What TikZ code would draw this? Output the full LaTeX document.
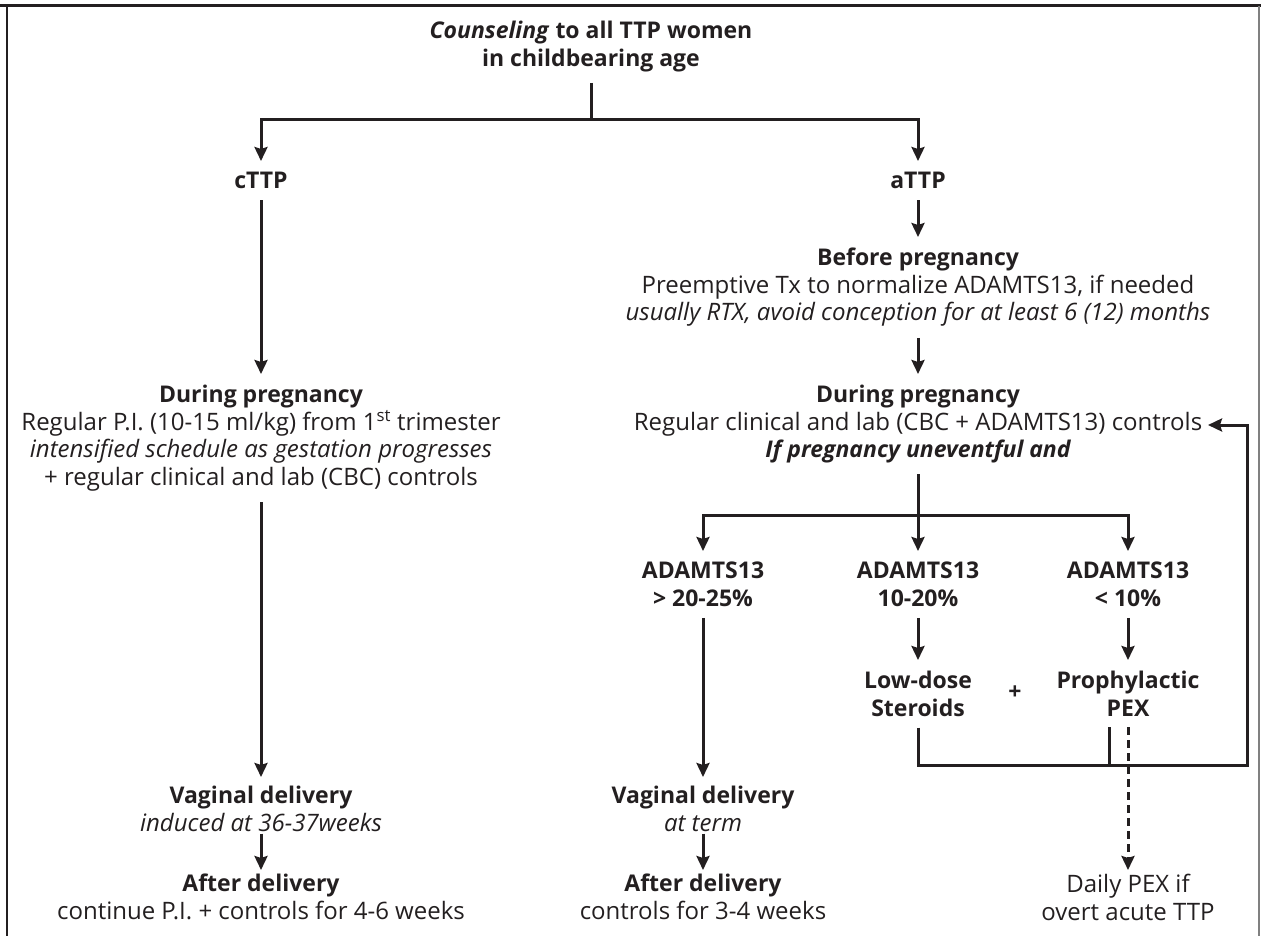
\documentclass[tikz,border=0pt]{standalone}
\usepackage{fontspec}
\setmainfont{Open Sans}
\usetikzlibrary{arrows.meta}
\definecolor{ink}{HTML}{231F20}
\newcommand{\hdg}[1]{{\fontsize{23}{27.5}\selectfont\bfseries #1}}
\begin{document}
\begin{tikzpicture}[x=1pt,y=-1pt,
  every node/.style={text=ink},
  txt/.style={inner xsep=0pt, inner ysep=11pt, align=center, anchor=north,
    font=\fontsize{24}{27.5}\selectfont},
  hd/.style={txt, font=\fontsize{23}{27.5}\selectfont\bfseries},
  near/.style={inner ysep=4pt},
  link/.style={draw=ink, line width=3pt},
  arr/.style={link, -{Stealth[length=14pt,width=13pt,inset=2pt]}},
  darr/.style={arr, dash pattern=on 8pt off 5pt}]
\useasboundingbox (0,0) rectangle (1261,936);
% frame
\draw[ink, line width=3pt] (0,6) -- (1261,6);
\draw[ink, line width=2pt] (7,6) -- (7,936);
\draw[gray, line width=1.5pt] (1259,6) -- (1259,936);

% nodes
\node[hd] (title) at (591,10) {\textit{Counseling} to all TTP women\\in childbearing age};
\coordinate (split) at (591,120);
\node[hd] (cttp) at (261,161) {cTTP};
\node[hd] (attp) at (918,161) {aTTP};

\node[txt] (cdur) at (261,374) {\hdg{During pregnancy}\\Regular P.I. (10-15 ml/kg) from 1\textsuperscript{st} trimester\\\textit{intensified schedule as gestation progresses}\\+ regular clinical and lab (CBC) controls};
\node[txt, near] (cvag) at (261,782) {\hdg{Vaginal delivery}\\\textit{induced at 36-37weeks}};
\node[txt, near] (caft) at (261,870) {\hdg{After delivery}\\continue P.I. + controls for 4-6 weeks};

\node[txt] (abef) at (918,237) {\hdg{Before pregnancy}\\Preemptive Tx to normalize ADAMTS13, if needed\\\textit{usually RTX, avoid conception for at least 6 (12) months}};
\node[txt] (adur) at (918,374) {\hdg{During pregnancy}\\Regular clinical and lab (CBC + ADAMTS13) controls\\\hdg{\itshape If pregnancy uneventful and}};
\coordinate (fbin) at (1208,425);
\coordinate (split2) at (918,515);

\node[hd] (m1) at (703,551) {ADAMTS13\\> 20-25\%};
\node[hd] (m2) at (918,551) {ADAMTS13\\10-20\%};
\node[hd] (m3) at (1128,551) {ADAMTS13\\< 10\%};

\node[hd] (ster) at (918,660) {Low-dose\\Steroids};
\node[hd] (pex) at (1128,660) {Prophylactic\\PEX};
\node[hd, anchor=center, inner ysep=0pt] (plus) at (1015,693) {+};

\node[txt, near] (mvag) at (703,782) {\hdg{Vaginal delivery}\\\textit{at term}};
\node[txt, near] (maft) at (703,870) {\hdg{After delivery}\\controls for 3-4 weeks};
\node[txt, near] (daily) at (1128,870) {Daily PEX if\\overt acute TTP};

\coordinate (barR) at (1247,765);
\coordinate (pexleg) at ([xshift=-19pt]pex.south);

% connectors
\draw[link] (title.south) -- (split);
\draw[arr] (split) -| (cttp.north);
\draw[arr] (split) -| (attp.north);
\draw[arr] (cttp.south) -- (cdur.north);
\draw[arr, shorten >=5pt] (cdur.south) -- (cvag.north);
\draw[arr, shorten <=-2pt] (cvag.south) -- (caft.north);
\draw[arr] (attp.south) -- (abef.north);
\draw[arr] (abef.south) -- (adur.north);
\draw[link] (adur.south) -- (split2);
\draw[arr] (split2) -| (m1.north);
\draw[arr] (split2) -- (m2.north);
\draw[arr] (split2) -| (m3.north);
\draw[arr, shorten >=5pt] (m1.south) -- (mvag.north);
\draw[arr, shorten <=-2pt] (mvag.south) -- (maft.north);
\draw[arr] (m2.south) -- (ster.north);
\draw[arr] (m3.south) -- (pex.north);
\draw[arr] (ster.south) |- (barR) |- (fbin);
\draw[link] (pexleg) -- (pexleg |- barR);
\draw[darr] (pex.south) -- (daily.north);
\end{tikzpicture}
\end{document}
